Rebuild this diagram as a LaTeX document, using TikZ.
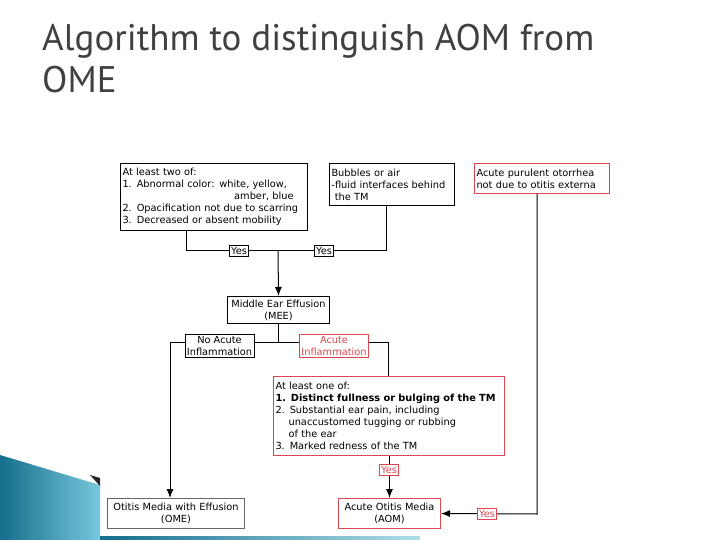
\documentclass[tikz,border=0pt]{standalone}
\usepackage{fontspec}
\setmainfont{DejaVu Sans}
\newfontfamily\titlefont{PT Sans}
\usetikzlibrary{arrows.meta,positioning}
\definecolor{boxred}{RGB}{220,70,80}
\definecolor{teal1}{RGB}{20,110,140}
\definecolor{teal2}{RGB}{120,200,220}
\tikzset{
  box/.style={draw, line width=1pt, inner sep=2pt, font=\fontsize{9.8}{12}\selectfont, anchor=north west},
  redbox/.style={box, draw=boxred},
  yes/.style={draw, line width=0.8pt, inner sep=1.5pt, fill=white, font=\fontsize{9.8}{10}\selectfont},
  link/.style={line width=1pt},
  arr/.style={link, -{Latex[length=9pt,width=7pt]}}
}
\begin{document}
\begin{tikzpicture}[x=1pt,y=-1pt]
\useasboundingbox (0,0) rectangle (720,540);
% decoration
\shade[left color=teal1, right color=teal2] (0,455) -- (100,485) -- (100,540) -- (0,540) -- cycle;
\fill[black!85] (90,475) -- (100,478) -- (100,486) -- cycle;
\shade[left color=teal1, right color=teal2!60] (100,536) rectangle (420,540);
% title
\node[anchor=north west, align=left, text=black!75, font=\titlefont\fontsize{37}{42}\selectfont, inner sep=0pt] (title) at (42,24) {Algorithm to distinguish AOM from\\OME};
% boxes
\node[box, text width=183pt, minimum height=67pt, align=left] (crit) at (120,163)
  {At least two of:\\1. Abnormal color: white, yellow,\\\hspace*{11.4em}amber, blue\\2. Opacification not due to scarring\\3. Decreased or absent mobility};
\node[box, text width=121pt, minimum height=42pt, align=left] (bubble) at (329,163)
  {Bubbles or air\\-fluid interfaces behind\\\ the TM};
\node[redbox, text width=131pt, minimum height=30pt, align=left] (otor) at (474,163)
  {Acute purulent otorrhea\\not due to otitis externa};
\node[box, text width=98pt, minimum height=27pt, align=center] (mee) at (227,296)
  {Middle Ear Effusion\\(MEE)};
\node[redbox, text width=227pt, minimum height=79pt, align=left] (signs) at (273,376)
  {At least one of:\\\textbf{1. Distinct fullness or bulging of the TM}\\2. Substantial ear pain, including\\\ \ \ \ unaccustomed tugging or rubbing\\\ \ \ \ of the ear\\3. Marked redness of the TM};
\node[box, draw=black!60, text width=133pt, minimum height=30pt, align=center] (ome) at (107,498)
  {Otitis Media with Effusion\\(OME)};
\node[redbox, text width=98pt, minimum height=30pt, align=center] (aom) at (338,498)
  {Acute Otitis Media\\(AOM)};
% connectors
\coordinate (jl) at (186,250);
\coordinate (jr) at (386,250);
\coordinate (jm) at (278,250);
\draw[link] (crit.south -| jl) -- (jl) -- (jr) -- (bubble.south -| jr);
\draw[arr] (jm) -- (mee.north);
\node[yes] (yes1) at (239,251) {Yes};
\node[yes] (yes2) at (324,251) {Yes};
\coordinate (kl) at (170,342);
\coordinate (kr) at (388,342);
\draw[link] (mee.south) -- (mee.south |- kl);
\draw[arr] (signs.north -| kr) -- (kr) -- (kl) -- (ome.north -| kl);
\node[box, anchor=center, fill=white, align=center, line width=0.8pt] (noacute) at (219.5,346) {No Acute\\Inflammation};
\node[box, anchor=center, fill=white, align=center, line width=0.8pt, draw=boxred, text=boxred] (acute) at (334,346) {Acute\\Inflammation};
\draw[arr] (signs.south -| aom.north) -- (aom.north);
\node[yes, draw=boxred, text=boxred] (yes3) at (389,470) {Yes};
\coordinate (cr) at (537,514);
\draw[arr] (otor.south -| cr) -- (cr) -- (aom.east);
\node[yes, draw=boxred, text=boxred] (yes4) at (487,514) {Yes};
\end{tikzpicture}
\end{document}
